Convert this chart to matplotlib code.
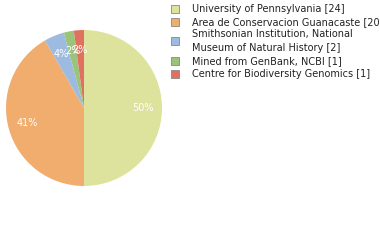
import matplotlib
matplotlib.use('Agg')
import matplotlib.pyplot as plt

# Specimen counts by institution
labels = ['University of Pennsylvania [24]',
          'Area de Conservacion Guanacaste [20]',
          'Smithsonian Institution, National\nMuseum of Natural History [2]',
          'Mined from GenBank, NCBI [1]',
          'Centre for Biodiversity Genomics [1]']
counts = [24, 20, 2, 1, 1]
colors = ['#dde39c', '#f0ad6e', '#9dbbe0', '#9bc47a', '#e07060']

W, H = 380, 240
fig = plt.figure(figsize=(W / 100, H / 100), dpi=100)

cx, cy, r = 84, 108, 78
ax = fig.add_axes([(cx - r) / W, (H - cy - r) / H, 2 * r / W, 2 * r / H])
wedges, texts, autotexts = ax.pie(counts, colors=colors, startangle=90,
                                  counterclock=False, pctdistance=0.75,
                                  autopct=lambda p: '%d%%' % int(p),
                                  textprops={'color': 'white', 'fontsize': 7})
ax.set_xlim(-1, 1)
ax.set_ylim(-1, 1)
ax.set_aspect('equal')
ax.axis('off')

# Legend drawn by hand so long labels can run off the right edge
ys = [9, 22, 41, 61, 74]
for y, lab, col in zip(ys, labels, colors):
    sq = 8
    fig.patches.append(plt.Rectangle((171 / W, (H - y - sq / 2) / H), sq / W, sq / H,
                                     transform=fig.transFigure, facecolor=col,
                                     edgecolor='#888888', linewidth=0.6))
    fig.text(192 / W, (H - y) / H, lab, fontsize=7, va='center', ha='left',
             color='#222222', linespacing=1.45)

fig.savefig('out.png', dpi=100)
